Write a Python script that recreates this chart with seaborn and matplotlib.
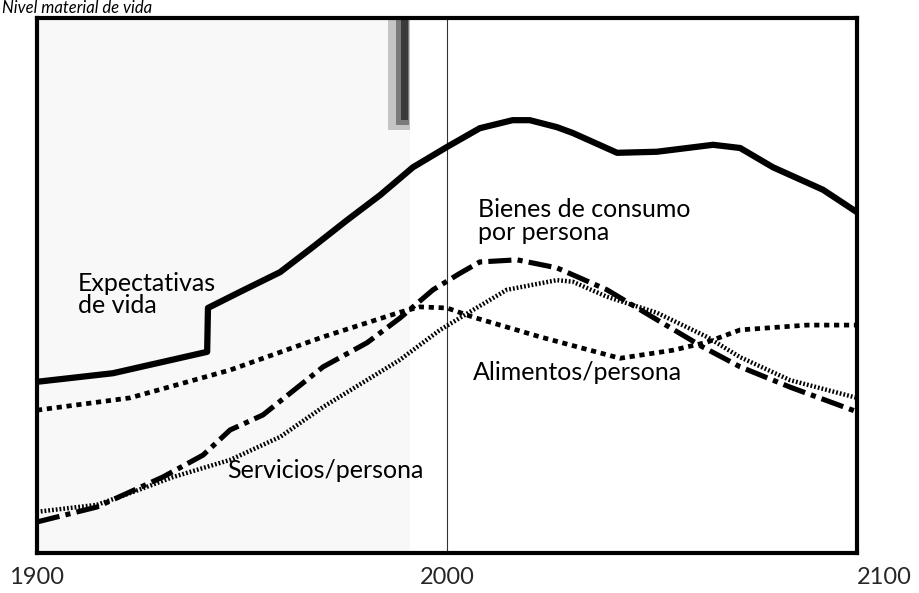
import numpy as np
import pandas as pd
import matplotlib.pyplot as plt
import seaborn as sns

# --- data (y is an unlabeled 0-100 scale) ---
vida_year = [1900, 1918.5, 1941.5, 1941.7, 1949.5, 1959.3, 1967.3, 1975.6, 1983.7, 1991.7,
             2000, 2008, 2016, 2020.2, 2026.8, 2030.7, 2041.5, 2051.2, 2064.9, 2071.5,
             2079.5, 2091.7, 2100]
vida_val = [32.0, 33.6, 37.6, 45.8, 48.8, 52.5, 57.2, 62.2, 66.9, 72.1,
            75.9, 79.4, 80.9, 80.9, 79.6, 78.5, 74.8, 75.0, 76.3, 75.7,
            72.1, 67.9, 63.7]

alim_year = [1900, 1922.7, 1947.1, 1969.8, 1988.5, 1993.4, 2000, 2006.3, 2022.7, 2042.2,
             2055.1, 2063.4, 2071.5, 2087.8, 2100]
alim_val = [26.7, 29.0, 34.2, 40.4, 45.0, 46.0, 45.8, 44.1, 40.4, 36.4,
            37.9, 39.4, 41.7, 42.6, 42.6]

bienes_year = [1900, 1914.6, 1930.7, 1940.5, 1947.1, 1955.1, 1969.8, 1980.5, 1988.5, 1996.6,
               2003.2, 2008, 2017.1, 2026.8, 2039, 2051.2, 2062.4, 2071.5, 2083.7, 2100]
bienes_val = [5.8, 8.6, 14.2, 18.3, 23.0, 25.8, 34.8, 39.3, 43.9, 49.2,
              52.3, 54.4, 54.8, 53.3, 49.2, 43.6, 38.5, 34.8, 31.0, 26.4]

serv_year = [1900, 1914.6, 1922.7, 1933.2, 1947.1, 1959.3, 1969.8, 1988.5, 1998.3, 2006.3,
             2014.6, 2026.8, 2030.7, 2039, 2051.2, 2063.4, 2071.5, 2083.7, 2100]
serv_val = [7.7, 9.0, 11.2, 14.2, 17.4, 21.7, 27.3, 36.1, 41.7, 45.4,
            49.2, 51.0, 50.7, 47.9, 44.9, 40.4, 36.6, 32.3, 29.0]

xticks = [1900, 2000, 2100]
title = "Nivel material de vida"

# --- style ---
sns.set_theme(style="white")
plt.rcParams['font.family'] = ['Lato', 'DejaVu Sans']

fig = plt.figure(figsize=(9.19, 5.93), dpi=100)
ax = fig.add_axes([37 / 919, 40 / 593, 820 / 919, 535 / 593])

# scan shading (faint texture + grey strip near the top)
ax.axvspan(1900, 1991, color='#f8f8f8', zorder=0, lw=0)
ax.axvspan(1985.6, 1991, ymin=0.79, ymax=1, color='#c4c4c4', zorder=0, lw=0)
ax.axvspan(1987.6, 1990.8, ymin=0.80, ymax=1, color='#7a7a7a', zorder=0, lw=0)
ax.axvspan(1988.8, 1990.6, ymin=0.81, ymax=1, color='#3a3a3a', zorder=0, lw=0)

# thin vertical line at 2000
ax.axvline(2000, color='#333333', lw=0.8, zorder=1)

sns.lineplot(x=vida_year, y=vida_val, ax=ax, color='black', lw=4.5,
             estimator=None, solid_joinstyle='round')
sns.lineplot(x=alim_year, y=alim_val, ax=ax, color='black', lw=3.4,
             estimator=None, linestyle=(0, (1.1, 1.0)), dash_capstyle='butt')
sns.lineplot(x=bienes_year, y=bienes_val, ax=ax, color='black', lw=3.7,
             estimator=None, linestyle=(0, (4.5, 1.2, 1.0, 1.2)), dash_capstyle='butt')
sns.lineplot(x=serv_year, y=serv_val, ax=ax, color='black', lw=3.2,
             estimator=None, linestyle=(0, (0.4, 0.45)), dash_capstyle='butt')

# labels
lab = dict(fontsize=18, color='black', ha='left', va='baseline')
ax.text(1910.0, 49.0, "Expectativas", **lab)
ax.text(1910.0, 44.9, "de vida", **lab)
ax.text(2007.6, 62.8, "Bienes de consumo", **lab)
ax.text(2007.6, 58.5, "por persona", **lab)
ax.text(2006.3, 32.3, "Alimentos/persona", **lab)
ax.text(1946.3, 14.0, "Servicios/persona", **lab)

ax.set_xlim(1900, 2100)
ax.set_ylim(0, 100)
ax.set_xticks(xticks)
ax.set_xticklabels([str(t) for t in xticks], fontsize=17)
ax.set_yticks([])
ax.tick_params(axis='x', length=0, pad=10)
ax.get_xticklabels()[-1].set_ha('left')

for s in ax.spines.values():
    s.set_visible(True)
    s.set_color('black')
    s.set_linewidth(3)

fig.text(2 / 919, 1 - 13 / 593, title, fontsize=12, style='italic',
         ha='left', va='baseline', color='black')

fig.savefig('out.png', dpi=100)
